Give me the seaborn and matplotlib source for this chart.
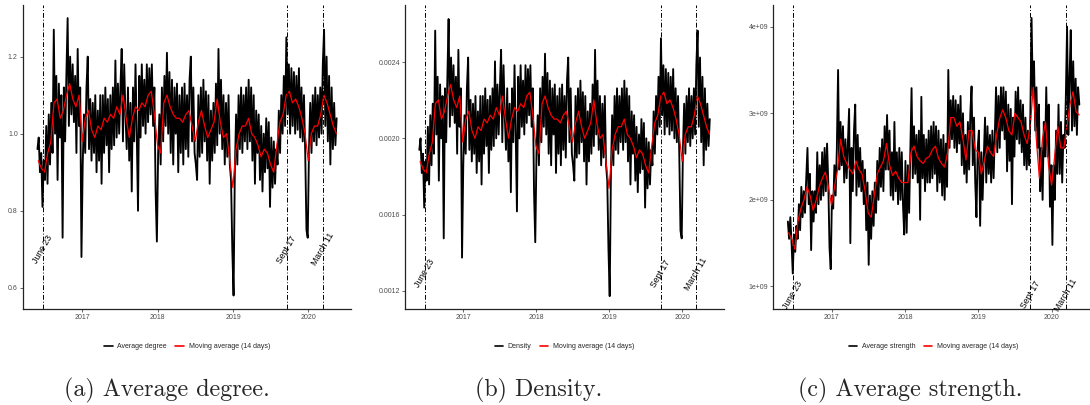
import numpy as np
import pandas as pd
import matplotlib
matplotlib.use("Agg")
import matplotlib.pyplot as plt
import matplotlib.dates as mdates
import seaborn as sns

# values, ~5 samples per month (late May 2016 -> mid May 2020)
avg_degree = [
    0.96,
    0.99, 0.90, 0.95, 0.81, 0.93,  # 2016-06
    0.88, 1.02, 0.87, 1.05, 0.92,
    1.08, 0.95, 1.27, 1.00, 1.15,
    0.88, 1.13, 0.99, 1.10, 0.73,
    1.12, 0.98, 1.15, 1.30, 1.02,
    1.20, 1.05, 1.18, 1.03, 1.15,
    0.95, 1.22, 1.02, 1.12, 0.68,
    0.92, 1.05, 0.95, 1.12, 1.20,  # 2017-01
    0.96, 1.09, 0.93, 1.08, 0.95,
    1.10, 0.90, 1.06, 0.93, 1.10,
    0.87, 1.10, 0.95, 1.12, 0.97,
    1.09, 0.90, 1.10, 0.96, 1.12,
    0.97, 1.19, 0.99, 1.13, 1.00,
    1.12, 1.22, 0.98, 1.18, 1.05,
    0.96, 1.12, 0.93, 1.08, 0.85,
    1.12, 0.98, 1.18, 1.00, 0.80,
    1.15, 0.99, 1.18, 1.02, 1.14,
    1.00, 1.18, 1.03, 1.17, 1.05,
    1.18, 1.02, 1.12, 0.85, 0.72,
    0.95, 1.05, 0.92, 1.12, 0.98,  # 2018-01
    1.15, 1.02, 1.21, 1.00, 1.16,
    0.95, 1.14, 0.92, 1.12, 1.00,
    1.13, 0.90, 1.10, 0.95, 1.12,
    0.92, 1.13, 0.96, 1.10, 0.94,
    1.14, 1.20, 0.98, 1.12, 0.95,
    0.92, 0.88, 1.10, 0.94, 1.12,
    0.95, 1.14, 0.98, 1.11, 0.93,
    1.10, 0.87, 1.06, 0.93, 1.08,
    0.95, 1.13, 0.97, 1.22, 1.00,
    1.14, 0.96, 1.10, 0.92, 1.08,
    0.94, 1.10, 0.92, 0.88, 0.70,
    0.58, 0.90, 1.05, 0.92, 1.10,  # 2019-01
    0.96, 1.12, 0.95, 1.10, 0.98,
    1.12, 0.96, 1.14, 0.98, 1.12,
    0.93, 1.10, 0.87, 1.06, 0.95,
    1.05, 0.88, 1.02, 0.85, 1.00,
    0.90, 1.04, 0.91, 1.03, 0.81,
    0.99, 0.86, 0.98, 0.87, 0.96,
    0.92, 1.06, 0.95, 1.10, 1.00,
    1.15, 1.02, 1.25, 1.05, 1.18,
    1.00, 1.17, 1.02, 1.16, 1.00,
    1.15, 1.01, 1.17, 0.99, 1.12,
    0.98, 1.10, 0.95, 0.75, 0.73,
    0.96, 1.08, 0.95, 1.10, 0.98,  # 2020-01
    1.12, 0.97, 1.10, 0.99, 1.12,
    1.00, 1.18, 1.27, 1.02, 1.20,
    0.98, 1.15, 0.92, 1.12, 0.96,
    1.08, 0.97, 1.04,
]

# 14-day moving average, two readings per month (Jun 2016 -> May 2020)
avg_degree_ma = [
    0.93, 0.91, 0.90, 0.95, 0.98, 1.08, 1.09, 1.04, 1.06, 1.10, 1.13, 1.09, 1.07, 1.10,
    0.98, 1.04, 1.06, 1.01, 0.99, 1.02, 1.01, 1.04, 1.03, 1.05, 1.04, 1.07,
    1.05, 1.10, 1.04, 0.99, 1.04, 1.07, 1.06, 1.08, 1.07, 1.10, 1.11, 1.05,
    0.97, 0.95, 1.08, 1.10, 1.07, 1.05, 1.04, 1.04, 1.03, 1.05, 1.06, 1.02,
    0.98, 1.03, 1.06, 1.02, 0.99, 1.01, 1.03, 1.09, 1.03, 0.99, 1.00, 0.93,
    0.86, 0.96, 1.00, 1.02, 1.02, 1.04, 1.00, 0.99, 0.97, 0.94, 0.96, 0.95,
    0.92, 0.90, 0.97, 1.03, 1.05, 1.10, 1.11, 1.08, 1.09, 1.07, 1.04, 1.00,
    0.93, 1.00, 1.02, 1.02, 1.05, 1.10, 1.08, 1.05, 1.02, 1.00,
]

# average strength, units of 1e9
avg_strength = [
    1.75,
    1.55, 1.80, 1.50, 1.15, 1.60,  # 2016-06
    1.40, 1.70, 1.55, 1.95, 1.65,
    2.15, 1.80, 2.10, 1.85, 2.25,
    2.60, 1.95, 2.30, 1.42, 2.10,
    1.75, 2.10, 1.85, 2.55, 1.95,
    2.40, 2.00, 2.55, 2.05, 2.60,
    2.10, 2.65, 2.20, 1.45, 1.20,
    2.05, 1.90, 2.40, 2.05, 2.60,  # 2017-01
    3.50, 2.35, 2.90, 2.40, 2.85,
    2.20, 2.70, 2.25, 2.65, 3.05,
    1.50, 2.60, 2.10, 2.80, 3.10,
    2.05, 2.75, 2.15, 2.60, 2.10,
    2.45, 1.95, 2.35, 1.65, 2.20,
    1.25, 2.05, 1.55, 2.10, 1.70,
    2.20, 1.85, 2.45, 2.00, 2.60,
    2.15, 2.70, 2.10, 2.85, 2.35,
    2.98, 2.35, 2.80, 2.05, 2.55,
    2.00, 2.90, 2.10, 2.55, 1.95,
    2.60, 2.00, 2.55, 1.95, 1.60,
    2.45, 1.62, 2.40, 1.85, 2.55,  # 2018-01
    3.29, 2.25, 2.85, 2.30, 2.75,
    2.20, 2.80, 1.77, 3.19, 2.25,
    2.75, 2.10, 2.70, 2.20, 2.80,
    2.20, 2.85, 2.25, 2.90, 2.30,
    2.85, 2.10, 2.80, 2.20, 2.70,
    2.05, 2.75, 2.00, 2.65, 2.15,
    3.50, 2.60, 3.15, 2.70, 3.20,
    2.60, 3.15, 2.55, 3.10, 2.65,
    3.20, 2.40, 3.00, 2.30, 2.75,
    2.20, 2.90, 2.35, 3.00, 3.31,
    2.40, 2.95, 2.20, 1.80, 2.60,
    2.80, 1.70, 2.55, 2.00, 2.50,  # 2019-01
    2.95, 2.20, 2.85, 2.30, 2.75,
    2.20, 2.80, 2.25, 2.75, 3.30,
    2.55, 3.20, 2.60, 3.30, 2.80,
    3.30, 2.70, 3.25, 2.33, 3.10,
    2.45, 3.05, 1.95, 2.95, 2.50,
    3.25, 2.70, 3.30, 2.65, 3.15,
    2.55, 3.10, 2.40, 2.95, 2.35,
    2.80, 2.40, 3.00, 4.10, 3.20,
    3.60, 2.80, 3.30, 2.60, 3.10,
    2.10, 2.60, 2.00, 2.90, 2.50,
    3.30, 2.50, 3.10, 1.92, 2.40,
    1.48, 2.40, 2.00, 2.80, 2.30,  # 2020-01
    3.10, 2.30, 2.90, 2.20, 2.75,
    2.60, 3.20, 4.00, 2.75, 3.40,
    3.96, 2.80, 3.60, 2.85, 3.40,
    2.75, 3.30, 3.10,
]

avg_strength_ma = [
    1.62, 1.55, 1.43, 1.75, 1.90, 2.00, 2.15, 2.05, 1.88, 2.00, 2.15, 2.25, 2.32, 2.15,
    1.94, 2.15, 2.35, 2.70, 2.50, 2.42, 2.35, 2.30, 2.45, 2.35, 2.30, 2.10,
    1.85, 1.80, 2.05, 2.30, 2.38, 2.45, 2.65, 2.40, 2.28, 2.33, 2.25, 2.20,
    2.20, 2.20, 2.55, 2.62, 2.50, 2.45, 2.42, 2.48, 2.50, 2.58, 2.62, 2.48,
    2.42, 2.38, 2.55, 2.95, 2.95, 2.85, 2.90, 2.70, 2.46, 2.80, 2.80, 2.58,
    2.55, 2.30, 2.45, 2.62, 2.55, 2.50, 2.75, 2.94, 3.04, 2.95, 2.80, 2.75,
    3.00, 2.95, 2.90, 2.75, 2.65, 2.85, 3.30, 2.70, 2.25, 2.70, 2.90, 2.40,
    2.17, 2.50, 2.85, 2.60, 2.60, 2.85, 3.10, 3.25, 3.02, 2.98,
]

# density = average degree / (n - 1), n
N_NODES = 496

event_dates = ["2016-06-23", "2019-09-17", "2020-03-11"]
event_labels = ["June 23", "Sept 17", "March 11"]

captions = ["(a) Average degree.", "(b) Density.", "(c) Average strength."]

dates = pd.date_range("2016-05-28", "2020-05-17", periods=len(avg_degree))
ma_dates = pd.date_range("2016-06-01", "2020-05-16", periods=len(avg_degree_ma))

panels = [
    dict(y=np.array(avg_degree), ma=np.array(avg_degree_ma), name="Average degree",
         ylim=(0.545, 1.334), ticks=[0.6, 0.8, 1.0, 1.2], fmt="{:.1f}", label_y=0.70,
         box=(22.6, 351.5), cap_x=167),
    dict(y=np.array(avg_degree) / (N_NODES - 1), ma=np.array(avg_degree_ma) / (N_NODES - 1),
         name="Density", ylim=(0.001104, 0.0027), ticks=[0.0012, 0.0016, 0.0020, 0.0024],
         fmt="{:.4f}", label_y=0.00129, box=(404.9, 724.2), cap_x=539),
    dict(y=np.array(avg_strength) * 1e9, ma=np.array(avg_strength_ma) * 1e9,
         name="Average strength", ylim=(0.74e9, 4.25e9), ticks=[1e9, 2e9, 3e9, 4e9],
         fmt="{:.0e}", label_y=0.90e9, box=(773.4, 1093.8), cap_x=910),
]

sns.set_style("ticks")
plt.rcParams["font.family"] = ["Liberation Sans", "DejaVu Sans"]

W, H = 1090, 405
fig = plt.figure(figsize=(W / 100, H / 100), dpi=100)

for p, cap in zip(panels, captions):
    l, r = p["box"]
    ax = fig.add_axes([l / W, 96 / H, (r - l) / W, 304 / H])

    sns.lineplot(x=dates, y=p["y"], ax=ax, color="black", lw=1.35, label=p["name"])
    sns.lineplot(x=ma_dates, y=p["ma"], ax=ax, color="red", lw=0.9,
                 label="Moving average (14 days)")

    for d, lab in zip(event_dates, event_labels):
        ax.axvline(pd.Timestamp(d), color="black", lw=0.7, ls=(0, (5, 2, 1, 2)))
        ax.text(pd.Timestamp(d), p["label_y"], lab, rotation=60, ha="center",
                va="center", fontsize=6.3, color="black")

    ax.set_xlim(pd.Timestamp("2016-03-17"), pd.Timestamp("2020-07-28"))
    ax.set_ylim(*p["ylim"])
    ax.xaxis.set_major_locator(mdates.YearLocator())
    ax.xaxis.set_major_formatter(mdates.DateFormatter("%Y"))
    ax.set_yticks(p["ticks"])
    ax.set_yticklabels([p["fmt"].format(t) for t in p["ticks"]])
    ax.tick_params(labelsize=5, colors="#4d4d4d", length=2, width=0.6, pad=1.5)
    ax.set_xlabel("")
    ax.set_ylabel("")
    for s in ["top", "right"]:
        ax.spines[s].set_visible(False)
    for s in ["left", "bottom"]:
        ax.spines[s].set_color("#222222")
        ax.spines[s].set_linewidth(0.9)

    leg = ax.legend(loc="center", bbox_to_anchor=(0.5, -0.125), ncol=2, frameon=False,
                    fontsize=5, handlelength=1.2, columnspacing=1.2, handletextpad=0.7)
    for h in leg.get_lines():
        h.set_linewidth(1.2)

    fig.text(p["cap_x"] / W, 15 / H, cap, ha="center", va="center",
             fontsize=17.3, family="cmr10")

fig.savefig("out.png", dpi=100)
